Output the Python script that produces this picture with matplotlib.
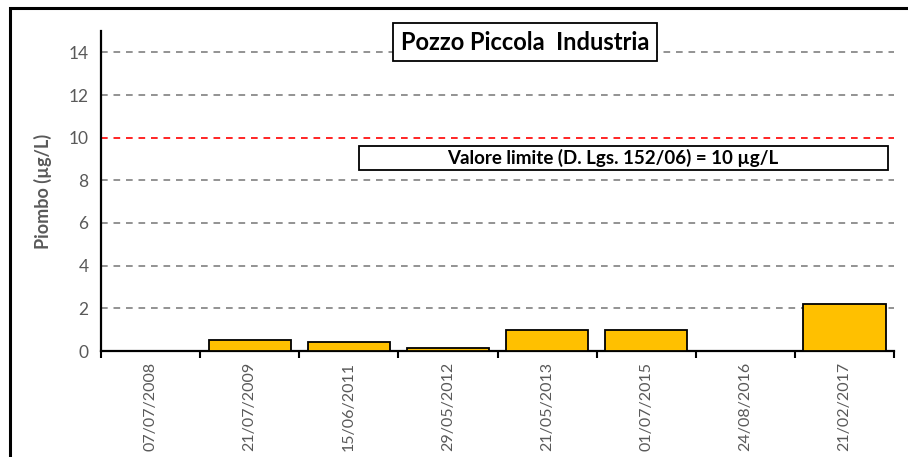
import numpy as np
import matplotlib
matplotlib.use("Agg")
from matplotlib import pyplot as plt
from matplotlib.patches import Rectangle

# data
dates = ["07/07/2008", "21/07/2009", "15/06/2011", "29/05/2012",
         "21/05/2013", "01/07/2015", "24/08/2016", "21/02/2017"]
piombo = [0.0, 0.5, 0.4, 0.15, 1.0, 1.0, 0.0, 2.2]
limite = 10
y_ticks = [0, 2, 4, 6, 8, 10, 12, 14]

plt.rcParams['font.family'] = ['Lato', 'DejaVu Sans']
grey = '#595959'

fig = plt.figure(figsize=(9.08, 4.57), dpi=100)
ax = fig.add_axes([101/908, 1 - 351/457, (894 - 101)/908, (351 - 31)/457])

x = np.arange(len(dates))
ax.bar(x, piombo, width=0.83, color='#FFC000', edgecolor='black', linewidth=1.3, zorder=3)

# grid
for t in y_ticks[1:]:
    if t == limite:
        continue
    ax.axhline(t, color='#808080', linestyle=(0, (4, 3.5)), linewidth=1.2, zorder=1)
ax.axhline(limite, color='red', linestyle=(0, (4, 3.5)), linewidth=1.2, zorder=2)

ax.set_xlim(-0.5, len(dates) - 0.5)
ax.set_ylim(0, 15)
ax.set_yticks(y_ticks)
ax.tick_params(axis='y', length=0, labelsize=12.5, labelcolor=grey, pad=9)

ax.set_xticks(x)
ax.set_xticklabels(dates, rotation=90, fontsize=11.5, color=grey)
ax.tick_params(axis='x', length=0, pad=8)
ax.set_xticks(np.arange(len(dates) + 1) - 0.5, minor=True)
ax.tick_params(axis='x', which='minor', length=5, width=1.5, direction='out', color='black')

for s in ['top', 'right']:
    ax.spines[s].set_visible(False)
ax.spines['left'].set_linewidth(1.6)
ax.spines['bottom'].set_linewidth(1.6)

ax.set_ylabel("Piombo (µg/L)", fontsize=13, fontweight='bold', color=grey, labelpad=12)

# title box
ax.text((525 - 101)/793, (351 - 42)/320, "Pozzo Piccola  Industria", transform=ax.transAxes,
        ha='center', va='center', fontsize=17, fontweight='bold', zorder=5,
        bbox=dict(boxstyle='square,pad=0.32', facecolor='white', edgecolor='black', linewidth=1.3))

# limit box
ax.add_patch(Rectangle(((359 - 101)/793, (351 - 170)/320), (888 - 359)/793, 24/320,
                       transform=ax.transAxes, facecolor='white', edgecolor='black',
                       linewidth=1.3, zorder=5))
ax.text((447 - 101)/793, (351 - 158)/320, "Valore limite (D. Lgs. 152/06) = 10 µg/L",
        transform=ax.transAxes, ha='left', va='center', fontsize=13.5, fontweight='bold', zorder=6)

# outer frame of the picture
fig.patches.append(Rectangle((10/908, -0.05), 1.0, 1 - 8/457 + 0.05, transform=fig.transFigure,
                             fill=False, edgecolor='black', linewidth=2.2))

fig.savefig("out.png", dpi=100)
